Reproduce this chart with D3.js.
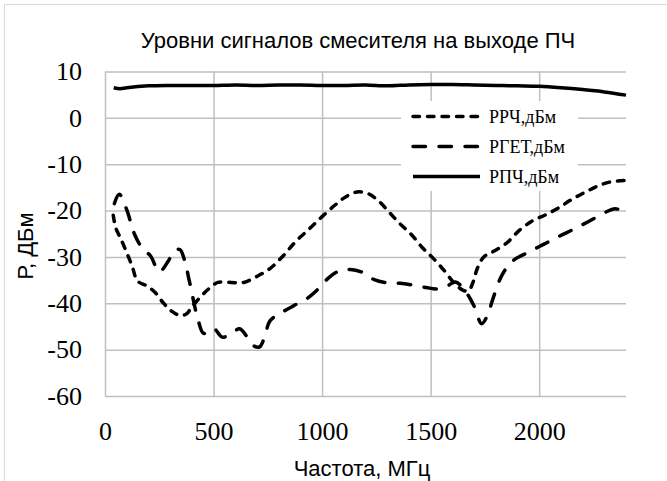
<!DOCTYPE html>
<html>
<head>
<meta charset="utf-8">
<script src="https://cdn.jsdelivr.net/npm/d3@7"></script>
<style>
  body { margin: 0; background: #fff; }
  .tick text { font-family: "Liberation Serif", "Times New Roman", serif; font-size: 26px; fill: #000; }
</style>
</head>
<body>
<svg></svg>
<script>
// РРЧ, дБм (short dash)
var freqRF = [38, 50, 70, 95, 125, 150, 190, 230, 270, 310, 345, 375, 400, 440, 480, 520, 580, 640, 700, 760, 820, 880, 940, 1000, 1060, 1110, 1160, 1210, 1260, 1310, 1360, 1410, 1460, 1510, 1560, 1610, 1650, 1675, 1695, 1715, 1745, 1790, 1850, 1910, 1970, 2030, 2090, 2150, 2210, 2270, 2330, 2400];
var levelRF = [-21, -23.8, -25.8, -28.5, -32, -35.2, -36.2, -37.6, -40, -41.8, -42.6, -42.3, -40.8, -38.6, -36.8, -35.5, -35.5, -35.5, -34.2, -32.5, -29.8, -26.6, -24, -21.3, -18.8, -17, -16, -16.3, -17.9, -20.4, -22.9, -25.1, -27.9, -30.2, -32.8, -35.7, -37.2, -37.3, -35.5, -32.5, -30, -28.8, -27, -24.2, -22.2, -20.9, -19.4, -17.6, -16.1, -14.7, -13.8, -13.5];

// РГЕТ, дБм (long dash)
var freqLO = [43, 66, 100, 135, 170, 210, 250, 290, 320, 345, 365, 390, 430, 455, 500, 540, 580, 620, 660, 690, 712, 735, 760, 810, 870, 930, 980, 1030, 1080, 1130, 1180, 1240, 1300, 1360, 1420, 1480, 1530, 1575, 1615, 1660, 1700, 1735, 1760, 1790, 1830, 1880, 1950, 2020, 2090, 2160, 2230, 2300, 2350, 2400];
var levelLO = [-18.5, -16.5, -19.8, -25, -28, -29.8, -33.2, -31, -28.6, -28.4, -30.5, -35.5, -43.8, -46.5, -45.4, -47.3, -46.6, -45.5, -47.6, -49.3, -49.4, -47.3, -43.8, -42.1, -40.5, -39, -37, -34.5, -33, -32.7, -33.2, -34.9, -35.6, -35.7, -36.1, -36.6, -36.9, -36.3, -35.4, -37.4, -40.6, -44.4, -42.8, -38.6, -33.8, -30.8, -29, -27.3, -25.6, -24, -22.3, -20.5, -19.6, -20.4];

// РПЧ, дБм (solid)
var freqIF = [40, 70, 100, 200, 300, 400, 500, 600, 700, 800, 900, 1000, 1100, 1200, 1300, 1400, 1500, 1600, 1700, 1800, 1900, 2000, 2100, 2200, 2300, 2400];
var levelIF = [6.5, 6.3, 6.5, 6.9, 7.0, 7.0, 7.0, 7.1, 7.0, 7.1, 7.1, 7.0, 7.0, 7.1, 6.9, 7.1, 7.2, 7.2, 7.1, 7.0, 6.9, 6.8, 6.5, 6.1, 5.6, 4.9];

var seriesNames = ['РРЧ,дБм', 'РГЕТ,дБм', 'РПЧ,дБм'];
var xTicks = [0, 500, 1000, 1500, 2000];
var yTicks = [10, 0, -10, -20, -30, -40, -50, -60];

var width = 667;
var height = 481;

var svg = d3.select('svg')
    .attr('width', width)
    .attr('height', height);

// chart area border
svg.append('rect')
    .attr('x', 4.5).attr('y', 4.5)
    .attr('width', 720).attr('height', 520)
    .attr('fill', 'none')
    .attr('stroke', '#d9d9d9');

var xScale = d3.scaleLinear().domain([0, 2400]).range([105, 626]);
var yScale = d3.scaleLinear().domain([-60, 10]).range([396, 71.5]);

var plotW = xScale.range()[1] - xScale.range()[0];
var plotH = yScale.range()[0] - yScale.range()[1];

// plain hyphen for negatives, like the original
var fmt = d => String(d);

var yAxis = d3.axisLeft(yScale)
    .tickValues(yTicks)
    .tickSize(-plotW)
    .tickPadding(23)
    .tickFormat(fmt);

var xAxis = d3.axisBottom(xScale)
    .tickValues(xTicks)
    .tickSize(-plotH)
    .tickPadding(26)
    .tickFormat(fmt);

var gy = svg.append('g')
    .attr('transform', 'translate(' + xScale.range()[0] + ',0)')
    .call(yAxis);

var gx = svg.append('g')
    .attr('transform', 'translate(0,' + yScale.range()[0] + ')')
    .call(xAxis);

[gx, gy].forEach(function(g) {
  g.attr('font-family', null).attr('font-size', null);
  g.select('.domain').remove();
  g.selectAll('line')
      .attr('stroke', '#bfbfbf')
      .attr('stroke-width', 1.5);
});

// legend box (covers gridlines)
var legend = svg.append('g');
legend.append('rect')
    .attr('x', 401).attr('y', 101)
    .attr('width', 177).attr('height', 90)
    .attr('fill', '#fff');

var styles = [
  { dash: '6.5,8' },
  { dash: '12.5,13.5' },
  { dash: null }
];

var series = [
  { f: freqRF, v: levelRF },
  { f: freqLO, v: levelLO },
  { f: freqIF, v: levelIF }
];

var line = d3.line()
    .x(d => xScale(d[0]))
    .y(d => yScale(d[1]))
    .curve(d3.curveCatmullRom.alpha(0.5));

series.forEach(function(s, i) {
  var pts = s.f.map((f, j) => [f, s.v[j]]);
  svg.append('path')
      .datum(pts)
      .attr('d', line)
      .attr('fill', 'none')
      .attr('stroke', '#000')
      .attr('stroke-width', 3.5)
      .attr('stroke-linecap', styles[i].dash ? 'round' : 'butt')
      .attr('stroke-linejoin', 'round')
      .attr('stroke-dasharray', styles[i].dash);
});

seriesNames.forEach(function(name, i) {
  var y = 116.5 + i * 30;
  legend.append('line')
      .attr('x1', 413).attr('x2', 480)
      .attr('y1', y).attr('y2', y)
      .attr('stroke', '#000')
      .attr('stroke-width', 3.5)
      .attr('stroke-linecap', styles[i].dash ? 'round' : 'butt')
      .attr('stroke-dasharray', styles[i].dash);
  legend.append('text')
      .attr('x', 489).attr('y', y)
      .attr('dy', '0.35em')
      .style('font-family', '"Liberation Serif", "Times New Roman", serif')
      .style('font-size', '18px')
      .text(name);
});

// title
svg.append('text')
    .attr('x', 358).attr('y', 48)
    .attr('text-anchor', 'middle')
    .style('font-family', '"Liberation Sans", Arial, sans-serif')
    .style('font-size', '22px')
    .text('Уровни сигналов смесителя на выходе ПЧ');

// x-axis title
svg.append('text')
    .attr('x', 362).attr('y', 476)
    .attr('text-anchor', 'middle')
    .style('font-family', '"Liberation Sans", Arial, sans-serif')
    .style('font-size', '22px')
    .text('Частота, МГц');

// y-axis title
svg.append('text')
    .attr('transform', 'translate(33,246) rotate(-90)')
    .attr('text-anchor', 'middle')
    .style('font-family', '"Liberation Sans", Arial, sans-serif')
    .style('font-size', '22px')
    .text('Р, ДБм');
</script>
</body>
</html>
